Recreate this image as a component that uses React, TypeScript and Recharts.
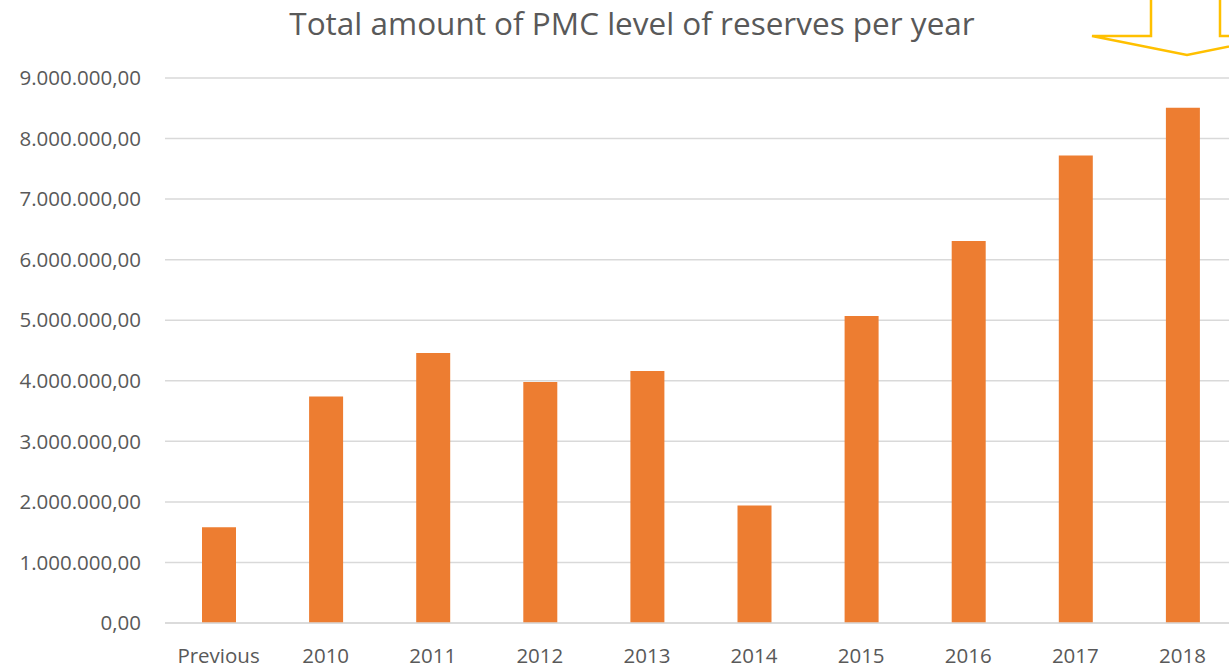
import { BarChart, Bar, XAxis, YAxis, CartesianGrid } from 'recharts'

const categories = ['Previous', '2010', '2011', '2012', '2013', '2014', '2015', '2016', '2017', '2018']
const reserves = [1580000, 3740000, 4460000, 3980000, 4160000, 1940000, 5070000, 6310000, 7720000, 8510000]
const yTicks = [0, 1000000, 2000000, 3000000, 4000000, 5000000, 6000000, 7000000, 8000000, 9000000]

const data = categories.map((year, i) => ({ year, value: reserves[i] }))

const FONT = '"Open Sans", "Noto Sans", sans-serif'
const TEXT = '#595959'

// 9000000 -> "9.000.000,00"
function euroStyle(v: number) {
  const whole = Math.round(v)
    .toString()
    .replace(/\B(?=(\d{3})+(?!\d))/g, '.')
  return `${whole},00`
}

export default function App() {
  return (
    <div
      style={{
        position: 'absolute',
        left: 0,
        top: 0,
        width: 1229,
        height: 669,
        overflow: 'hidden',
        background: '#fff',
        fontFamily: FONT,
      }}
    >
      <BarChart
        width={1240}
        height={669}
        data={data}
        margin={{ top: 78, right: 4, bottom: 0, left: 0 }}
        barSize={34}
      >
        <CartesianGrid vertical={false} stroke="#d9d9d9" strokeWidth={1.5} />
        <XAxis
          dataKey="year"
          tickLine={false}
          axisLine={{ stroke: '#d9d9d9', strokeWidth: 1.5 }}
          tick={{ fill: TEXT, fontSize: 20.5, fontFamily: FONT }}
          tickMargin={19}
          height={46}
          interval={0}
        />
        <YAxis
          domain={[0, 9000000]}
          ticks={yTicks}
          tickFormatter={euroStyle}
          tickLine={false}
          axisLine={false}
          tick={{ fill: TEXT, fontSize: 20.5, fontFamily: FONT }}
          tickMargin={18}
          width={165}
        />
        <Bar dataKey="value" fill="#ed7d31" isAnimationActive={false} />
      </BarChart>
      <svg
        width={1229}
        height={669}
        style={{ position: 'absolute', left: 0, top: 0, pointerEvents: 'none' }}
      >
        <text
          x={632}
          y={35}
          textAnchor="middle"
          fill={TEXT}
          fontSize={31.5}
          fontFamily={FONT}
        >
          Total amount of PMC level of reserves per year
        </text>
        <polyline
          points="1151,-2 1151,36 1092,36 1187,55 1282,36 1220,36 1220,-2"
          fill="none"
          stroke="#ffc000"
          strokeWidth={2.5}
        />
      </svg>
    </div>
  )
}
